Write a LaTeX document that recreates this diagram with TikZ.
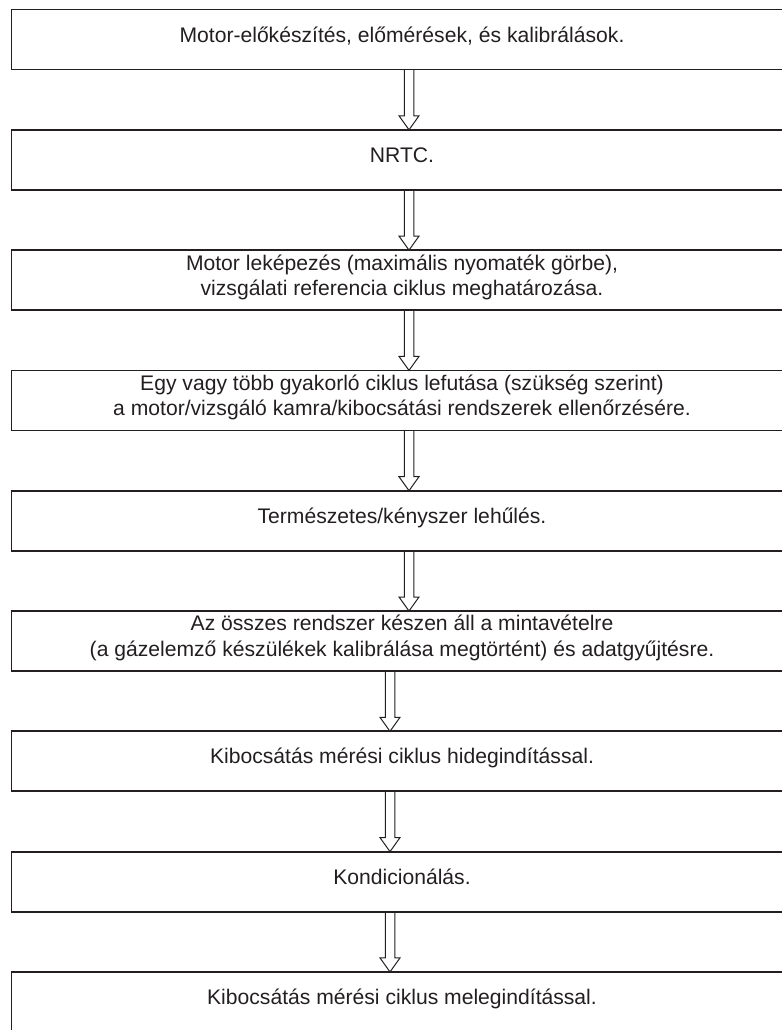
\documentclass[tikz,border=0pt]{standalone}
\usepackage{fontspec}
\setmainfont{Liberation Sans}
\usetikzlibrary{positioning,calc}
\definecolor{ink}{HTML}{231F20}
\begin{document}
\begin{tikzpicture}[x=1bp,y=1bp,
	stage/.style={draw=ink,line width=1.8bp,minimum width=781bp,minimum height=60bp,
		inner sep=0pt,outer sep=0pt,align=center,text=ink,text height=15bp,text depth=9.8bp,
		font=\fontsize{21.2}{25.6}\selectfont},
	twoline/.style={text height=40.6bp},
	hollow/.style={draw=ink,line width=1bp,line join=miter}]
	\useasboundingbox (0,0) rectangle (782,-1030);

	\node[stage] (s1) at (402,-39.5) {Motor-előkészítés, előmérések, és kalibrálások.};
	\node[stage,below=60.3bp of s1] (s2) {NRTC.};
	\node[stage,twoline,below=60.3bp of s2] (s3) {Motor leképezés (maximális nyomaték görbe),\\ vizsgálati referencia ciklus meghatározása.};
	\node[stage,twoline,below=60.3bp of s3] (s4) {Egy vagy több gyakorló ciklus lefutása (szükség szerint)\\a motor/vizsgáló kamra/kibocsátási rendszerek ellenőrzésére.};
	\node[stage,below=60.3bp of s4] (s5) {Természetes/kényszer lehűlés.};
	\node[stage,twoline,below=60.3bp of s5] (s6) {Az összes rendszer készen áll a mintavételre\\(a gázelemző készülékek kalibrálása megtörtént) és adatgyűjtésre.};
	\node[stage,below=60.3bp of s6] (s7) {Kibocsátás mérési ciklus hidegindítással.};
	\node[stage,below=60.3bp of s7] (s8) {Kondicionálás.};
	\node[stage,below=60.3bp of s8] (s9) {Kibocsátás mérési ciklus melegindítással.};

	% hollow block arrows
	\foreach \a/\b/\dx in {s1/s2/7,s2/s3/7,s3/s4/7,s4/s5/7,s5/s6/7,s6/s7/-12,s7/s8/-12,s8/s9/-12}
		\draw[hollow] ($(\a.south)+(\dx-4.75,0)$) -- ($(\b.north)+(\dx-4.75,14)$)
			-- ($(\b.north)+(\dx-10,14)$) -- ($(\b.north)+(\dx,0)$)
			-- ($(\b.north)+(\dx+10,14)$) -- ($(\b.north)+(\dx+4.75,14)$)
			-- ($(\a.south)+(\dx+4.75,0)$);

\end{tikzpicture}
\end{document}
